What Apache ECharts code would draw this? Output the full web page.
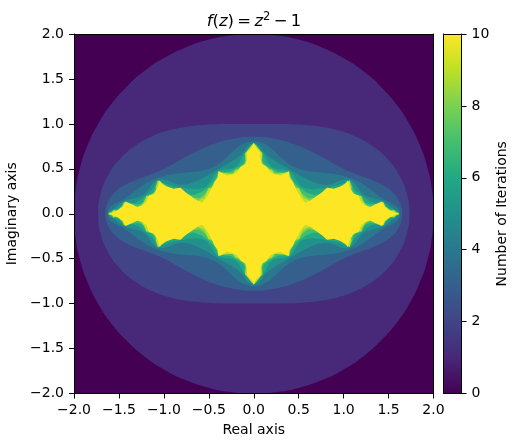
<!DOCTYPE html>
<html>
<head>
<meta charset="utf-8">
<style>
  html, body { margin: 0; padding: 0; background: #fff; }
  #main { width: 518px; height: 447px; }
</style>
<script src="https://cdn.jsdelivr.net/npm/echarts@6/dist/echarts.min.js"></script>
</head>
<body>
<div id="main"></div>
<script>
// iteration count -> colour
const viridis = ['#440154', '#482878', '#414487', '#355f8d', '#2a788e', '#21918c',
  '#22a884', '#44bf70', '#7ad151', '#bddf26', '#fde725'];

// outline of each iteration level, upper right quadrant only, from the real axis up to the imaginary axis
const edge0 = [[2, 0], [2, 2], [0, 2]];
const edge1 = [[2, 0], [1.983, 0.261], [1.932, 0.518], [1.848, 0.765], [1.732, 1], [1.587, 1.218], [1.414, 1.414],
  [1.218, 1.587], [1, 1.732], [0.765, 1.848], [0.518, 1.932], [0.261, 1.983], [0, 2]];
const edge2 = [[1.732, 0], [1.703, 0.224], [1.617, 0.433], [1.484, 0.614], [1.314, 0.759], [1.125, 0.863], [0.931, 0.931],
  [0.743, 0.969], [0.571, 0.988], [0.413, 0.997], [0.268, 0.999], [0.132, 0.999], [0, 1]];
const edge3 = [[1.653, 0], [1.623, 0.133], [1.541, 0.246], [1.427, 0.326], [1.309, 0.378], [1.201, 0.416], [1.099, 0.455],
  [0.992, 0.503], [0.868, 0.569], [0.708, 0.658], [0.504, 0.753], [0.261, 0.828], [0, 0.856]];
const edge4 = [[1.629, 0], [1.62, 0.041], [1.596, 0.077], [1.561, 0.104], [1.525, 0.124], [1.49, 0.14], [1.457, 0.156],
  [1.422, 0.177], [1.382, 0.206], [1.33, 0.247], [1.262, 0.298], [1.177, 0.352], [1.076, 0.398], [0.961, 0.431],
  [0.836, 0.45], [0.711, 0.463], [0.598, 0.476], [0.505, 0.498], [0.428, 0.531], [0.361, 0.576], [0.299, 0.632],
  [0.235, 0.694], [0.163, 0.755], [0.084, 0.792], [0, 0.808]];
const edge5 = [[1.621, 0], [1.611, 0.024], [1.59, 0.039], [1.568, 0.05], [1.545, 0.067], [1.529, 0.081], [1.507, 0.099],
  [1.48, 0.119], [1.447, 0.138], [1.409, 0.153], [1.365, 0.165], [1.32, 0.175], [1.278, 0.186], [1.243, 0.2],
  [1.215, 0.219], [1.191, 0.242], [1.171, 0.27], [1.152, 0.301], [1.128, 0.335], [1.101, 0.36], [1.069, 0.378],
  [1.031, 0.384], [0.991, 0.381], [0.948, 0.366], [0.907, 0.348], [0.866, 0.333], [0.822, 0.323], [0.774, 0.322],
  [0.715, 0.333], [0.646, 0.358], [0.567, 0.397], [0.486, 0.443], [0.406, 0.49], [0.329, 0.535], [0.26, 0.573],
  [0.202, 0.611], [0.161, 0.64], [0.114, 0.684], [0.084, 0.738], [0.05, 0.77], [0, 0.793]];
const edge6 = [[1.619, 0], [1.596, 0.021], [1.565, 0.044], [1.539, 0.054], [1.511, 0.062], [1.49, 0.073], [1.476, 0.091],
  [1.463, 0.114], [1.444, 0.131], [1.417, 0.134], [1.387, 0.125], [1.355, 0.119], [1.337, 0.12], [1.316, 0.127],
  [1.29, 0.139], [1.262, 0.157], [1.232, 0.18], [1.203, 0.204], [1.175, 0.228], [1.15, 0.249], [1.129, 0.271],
  [1.1, 0.311], [1.084, 0.355], [1.067, 0.372], [1.042, 0.369], [1.001, 0.342], [0.949, 0.322], [0.915, 0.313],
  [0.874, 0.306], [0.826, 0.297], [0.772, 0.287], [0.714, 0.278], [0.655, 0.273], [0.601, 0.277], [0.556, 0.29],
  [0.523, 0.309], [0.476, 0.366], [0.442, 0.431], [0.397, 0.476], [0.34, 0.493], [0.273, 0.495], [0.214, 0.512],
  [0.167, 0.557], [0.132, 0.625], [0.102, 0.676], [0.045, 0.744], [0, 0.788]];
const edge7 = [[1.618, 0], [1.594, 0.017], [1.578, 0.023], [1.57, 0.036], [1.555, 0.043], [1.535, 0.039], [1.522, 0.042],
  [1.505, 0.052], [1.486, 0.069], [1.469, 0.085], [1.453, 0.107], [1.442, 0.129], [1.42, 0.12], [1.388, 0.113],
  [1.356, 0.11], [1.314, 0.106], [1.27, 0.109], [1.24, 0.125], [1.224, 0.15], [1.213, 0.178], [1.199, 0.198],
  [1.177, 0.209], [1.149, 0.215], [1.127, 0.227], [1.112, 0.25], [1.099, 0.284], [1.094, 0.309], [1.079, 0.345],
  [1.066, 0.37], [1.041, 0.357], [1.005, 0.336], [0.984, 0.318], [0.958, 0.291], [0.928, 0.276], [0.896, 0.276],
  [0.861, 0.286], [0.828, 0.287], [0.795, 0.271], [0.763, 0.24], [0.723, 0.214], [0.665, 0.208], [0.585, 0.238],
  [0.509, 0.292], [0.452, 0.346], [0.413, 0.414], [0.394, 0.472], [0.337, 0.461], [0.266, 0.468], [0.204, 0.501],
  [0.147, 0.534], [0.112, 0.567], [0.1, 0.595], [0.102, 0.657], [0.084, 0.679], [0.037, 0.735], [0, 0.786]];
const edge8 = [[1.618, 0], [1.606, 0.007], [1.598, 0.013], [1.588, 0.013], [1.577, 0.022], [1.567, 0.034], [1.563, 0.041],
  [1.556, 0.039], [1.535, 0.036], [1.507, 0.036], [1.492, 0.05], [1.484, 0.067], [1.468, 0.073], [1.456, 0.086],
  [1.451, 0.106], [1.443, 0.128], [1.419, 0.118], [1.401, 0.104], [1.378, 0.1], [1.366, 0.105], [1.354, 0.106],
  [1.329, 0.09], [1.292, 0.08], [1.262, 0.094], [1.234, 0.118], [1.213, 0.143], [1.201, 0.172], [1.197, 0.197],
  [1.173, 0.197], [1.144, 0.205], [1.12, 0.224], [1.098, 0.243], [1.084, 0.274], [1.087, 0.312], [1.074, 0.342],
  [1.066, 0.369], [1.043, 0.352], [1.013, 0.335], [0.995, 0.299], [0.964, 0.277], [0.932, 0.269], [0.896, 0.261],
  [0.857, 0.269], [0.829, 0.285], [0.807, 0.256], [0.773, 0.224], [0.729, 0.2], [0.668, 0.178], [0.604, 0.172],
  [0.536, 0.224], [0.503, 0.285], [0.447, 0.309], [0.41, 0.355], [0.407, 0.413], [0.394, 0.47], [0.338, 0.457],
  [0.285, 0.439], [0.239, 0.45], [0.202, 0.49], [0.102, 0.534], [0.092, 0.598], [0.092, 0.652], [0.095, 0.679],
  [0.05, 0.69], [0.029, 0.746], [0, 0.786]];
const edge9 = [[1.618, 0], [1.601, 0.013], [1.583, 0.011], [1.567, 0.027], [1.564, 0.041], [1.55, 0.034], [1.535, 0.035],
  [1.514, 0.026], [1.495, 0.039], [1.485, 0.058], [1.484, 0.066], [1.466, 0.07], [1.449, 0.108], [1.442, 0.128],
  [1.415, 0.106], [1.392, 0.097], [1.365, 0.099], [1.355, 0.105], [1.317, 0.076], [1.267, 0.068], [1.23, 0.116],
  [1.2, 0.172], [1.197, 0.196], [1.173, 0.195], [1.131, 0.199], [1.118, 0.219], [1.078, 0.248], [1.087, 0.3],
  [1.074, 0.321], [1.072, 0.348], [1.066, 0.369], [1.046, 0.357], [1.031, 0.335], [1.006, 0.324], [0.985, 0.271],
  [0.931, 0.263], [0.907, 0.248], [0.856, 0.267], [0.829, 0.283], [0.811, 0.255], [0.731, 0.195], [0.643, 0.134],
  [0.551, 0.181], [0.5, 0.285], [0.473, 0.284], [0.415, 0.324], [0.39, 0.383], [0.393, 0.469], [0.344, 0.453],
  [0.23, 0.446], [0.202, 0.487], [0.067, 0.51], [0.087, 0.609], [0.095, 0.674], [0.027, 0.76], [0, 0.786]];
const edge10 = [[1.605, 0], [1.519, 0.037], [1.463, 0.074], [1.426, 0.137], [1.352, 0.104], [1.296, 0.074], [1.241, 0.093],
  [1.193, 0.13], [1.167, 0.204], [1.111, 0.222], [1.067, 0.296], [1.048, 0.37], [1.019, 0.333], [0.963, 0.304],
  [0.889, 0.278], [0.815, 0.289], [0.76, 0.24], [0.685, 0.185], [0.63, 0.148], [0.574, 0.122], [0.537, 0.167],
  [0.5, 0.222], [0.463, 0.296], [0.437, 0.352], [0.4, 0.407], [0.389, 0.47], [0.352, 0.452], [0.296, 0.426],
  [0.24, 0.437], [0.185, 0.463], [0.148, 0.52], [0.093, 0.555], [0.074, 0.61], [0.074, 0.685], [0.03, 0.73], [0, 0.78]];

const levelEdges = [edge0, edge1, edge2, edge3, edge4, edge5, edge6, edge7, edge8, edge9, edge10];
const levels = [0, 1, 2, 3, 4, 5, 6, 7, 8, 9, 10];
// the outer outlines are smooth curves, the inner ones are jagged
const levelSmooth = [0, 0.5, 0.5, 0.4, 0.2, 0, 0, 0, 0, 0, 0];

const fontFamily = 'DejaVu Sans';
const textColor = '#000';

// the picture is symmetric in both axes so every quadrant uses the same outline
function fullOutline(q) {
  const back = q.slice().reverse().slice(1);
  return q
    .concat(back.map((p) => [-p[0], p[1]]))
    .concat(q.slice(1).map((p) => [-p[0], -p[1]]))
    .concat(back.slice(0, -1).map((p) => [p[0], -p[1]]));
}

function tickText(v) {
  return v.toFixed(1).replace('-', '\u2212');
}

// axis that only draws a frame line, kept above the series
function frameAxis(gridIndex, position) {
  return {
    type: 'value', gridIndex, position, min: 0, max: 1, z: 10,
    axisLine: { show: true, onZero: false, lineStyle: { color: '#000', width: 1 } },
    axisTick: { show: false }, axisLabel: { show: false }, splitLine: { show: false },
  };
}

const plotAxis = {
  type: 'value', min: -2, max: 2, interval: 0.5, z: 10,
  nameLocation: 'middle',
  nameTextStyle: { fontFamily, fontSize: 14, color: textColor },
  axisLine: { show: true, onZero: false, lineStyle: { color: '#000', width: 1 } },
  axisTick: { show: true, length: 5, lineStyle: { color: '#000', width: 1 } },
  axisLabel: { fontFamily, fontSize: 14, color: textColor, margin: 10, formatter: tickText, hideOverlap: false },
  splitLine: { show: false },
};
// y labels sit a little lower than the default middle alignment
const yLabel = { ...plotAxis.axisLabel, padding: [2, 0, 0, 0] };

const option = {
  animation: false,
  backgroundColor: '#fff',
  title: {
    left: 249, top: 6, textAlign: 'center',
    text: '{i|f}{r|(}{i|z}{r|)\u2009=\u2009}{i|z}{s|2}{r|\u2009\u2212\u20091}',
    textStyle: {
      fontWeight: 'normal',
      rich: {
        i: { fontFamily, fontStyle: 'italic', fontWeight: 'normal', fontSize: 16.5, color: textColor },
        r: { fontFamily, fontWeight: 'normal', fontSize: 16.5, color: textColor },
        s: { fontFamily, fontWeight: 'normal', fontSize: 11.5, color: textColor, padding: [0, 0, 9, 0] },
      },
    },
  },
  grid: [
    { left: 74, top: 34, width: 359.5, height: 359.5, outerBoundsMode: 'none' },
    { left: 443.5, top: 34, width: 18, height: 359.5, outerBoundsMode: 'none' },
  ],
  xAxis: [
    { ...plotAxis, gridIndex: 0, position: 'bottom', name: 'Real axis', nameGap: 30 },
    frameAxis(0, 'top'),
    frameAxis(1, 'bottom'),
    frameAxis(1, 'top'),
  ],
  yAxis: [
    { ...plotAxis, gridIndex: 0, position: 'left', name: 'Imaginary axis', nameGap: 46, axisLabel: yLabel },
    frameAxis(0, 'right'),
    frameAxis(1, 'left'),
    {
      ...plotAxis, gridIndex: 1, position: 'right', min: 0, max: 10, interval: 2,
      name: 'Number of Iterations', nameGap: 34, nameRotate: 90,
      axisLabel: { fontFamily, fontSize: 14, color: textColor, margin: 10, padding: [2, 0, 0, 0] },
    },
  ],
  series: [
    {
      type: 'custom',
      coordinateSystem: 'cartesian2d',
      xAxisIndex: 0,
      yAxisIndex: 0,
      clip: true,
      silent: true,
      data: levels,
      renderItem(params, api) {
        const level = levels[params.dataIndex];
        return {
          type: 'polygon',
          shape: {
            points: fullOutline(levelEdges[level]).map((p) => api.coord(p)),
            smooth: levelSmooth[level],
          },
          style: { fill: viridis[level] },
        };
      },
    },
    {
      // colour bar
      type: 'custom',
      coordinateSystem: 'cartesian2d',
      xAxisIndex: 2,
      yAxisIndex: 3,
      silent: true,
      data: [[0, 0]],
      renderItem(params, api) {
        const low = api.coord([0, 0]);
        const high = api.coord([1, 10]);
        return {
          type: 'rect',
          shape: { x: low[0], y: high[1], width: high[0] - low[0], height: low[1] - high[1] },
          style: {
            fill: new echarts.graphic.LinearGradient(0, 1, 0, 0,
              viridis.map((color, i) => ({ offset: i / 10, color }))),
          },
        };
      },
    },
  ],
};

const chart = echarts.init(document.getElementById('main'));
chart.setOption(option);
</script>
</body>
</html>
